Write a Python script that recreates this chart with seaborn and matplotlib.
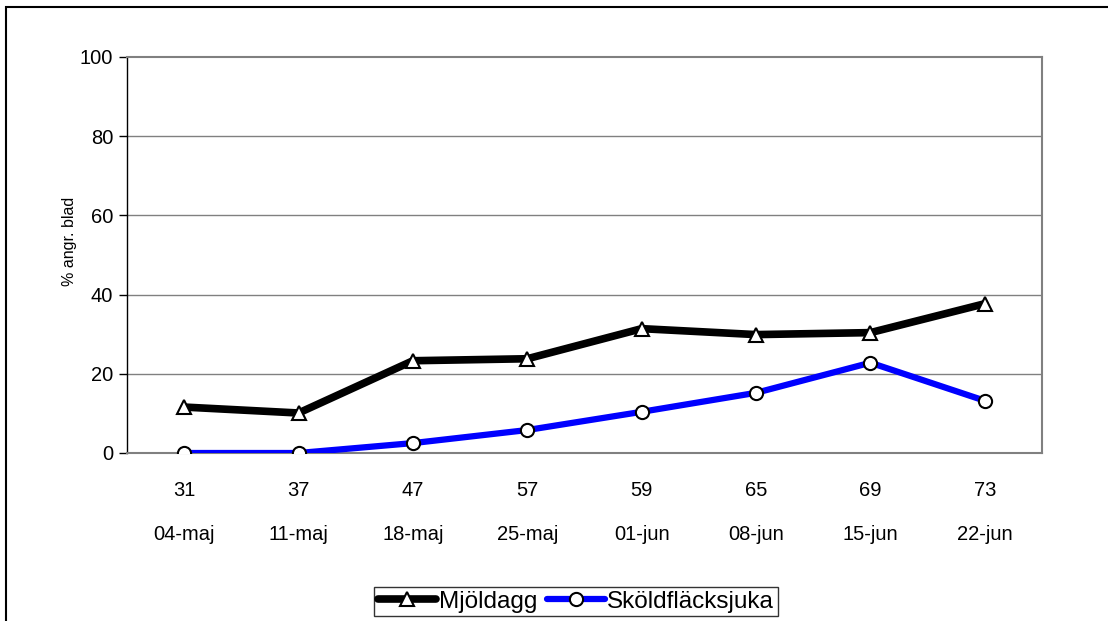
import matplotlib
matplotlib.use("Agg")
import matplotlib.pyplot as plt
import seaborn as sns
import pandas as pd
from matplotlib.patches import Rectangle

# Data
stages = ["31", "37", "47", "57", "59", "65", "69", "73"]
dates = ["04-maj", "11-maj", "18-maj", "25-maj", "01-jun", "08-jun", "15-jun", "22-jun"]
mjoldagg = [11.6, 10.1, 23.3, 23.8, 31.4, 29.9, 30.4, 37.7]
skoldflacksjuka = [0.0, 0.0, 2.5, 5.8, 10.4, 15.2, 22.8, 13.2]
yticks = [0, 20, 40, 60, 80, 100]

sns.set_theme(style="white")
plt.rcParams['font.family'] = ['Liberation Sans', 'DejaVu Sans']
plt.rcParams['text.color'] = 'black'
plt.rcParams['xtick.color'] = 'black'
plt.rcParams['ytick.color'] = 'black'
plt.rcParams['axes.labelcolor'] = 'black'

df = pd.DataFrame({
    "pos": list(range(len(stages))) * 2,
    "value": mjoldagg + skoldflacksjuka,
    "serie": ["Mjöldagg"] * len(stages) + ["Sköldfläcksjuka"] * len(stages),
})

fig = plt.figure(figsize=(11.08, 6.21), dpi=100)
ax = fig.add_axes([127/1108, 1 - 453/621, (1042-127)/1108, (453-57)/621])

for y in yticks[1:-1]:
    ax.axhline(y, color="#808080", lw=1.0, zorder=0)

sub1 = df[df.serie == "Mjöldagg"]
sub2 = df[df.serie == "Sköldfläcksjuka"]
sns.lineplot(data=sub1, x="pos", y="value", ax=ax, color="black", lw=5.5,
             marker="^", markersize=9.5, markerfacecolor="white",
             markeredgecolor="black", markeredgewidth=1.5, label="Mjöldagg",
             zorder=3)
sns.lineplot(data=sub2, x="pos", y="value", ax=ax, color="#0000FF", lw=4.5,
             marker="o", markersize=9.5, markerfacecolor="white",
             markeredgecolor="black", markeredgewidth=1.5, label="Sköldfläcksjuka",
             zorder=4)

ax.set_xlim(-0.5, len(stages) - 0.5)
ax.set_ylim(0, 100)
ax.set_yticks(yticks)
ax.set_yticklabels([str(v) for v in yticks], fontsize=14.5)
ax.set_xticks(range(len(stages)))
ax.set_xticklabels([f"{s}\n\n{d}" for s, d in zip(stages, dates)], fontsize=14.5,
                   linespacing=1.22)
ax.tick_params(axis="x", length=0, pad=20)
ax.tick_params(axis="y", length=6, width=1, color="black", direction="out", pad=4, left=True)
ax.set_xlabel("")
ax.set_ylabel("% angr. blad", fontsize=11.5)
ax.yaxis.set_label_coords(-0.0546, 0.535)

for side in ["top", "right", "bottom"]:
    ax.spines[side].set_color("#808080")
    ax.spines[side].set_linewidth(1.5)
ax.spines["left"].set_color("black")
ax.spines["left"].set_linewidth(1.0)

ax.get_legend().remove()
h, l = ax.get_legend_handles_labels()
leg = fig.legend(h, l, loc="center", bbox_to_anchor=(576/1108, 1 - 601.5/621),
                 ncol=2, fontsize=17.5, frameon=True, fancybox=False, shadow=False,
                 handlelength=2.4, handletextpad=0.1, columnspacing=0.4,
                 borderpad=0.15, borderaxespad=0)
leg.get_frame().set_edgecolor("black")
leg.get_frame().set_linewidth(1.0)

fig.patches.append(Rectangle((6/1108, -0.1), 1.2, 1 - 7/621 + 0.1, transform=fig.transFigure,
                             fill=False, edgecolor="black", lw=1.5))

fig.savefig("out.png", dpi=100)
